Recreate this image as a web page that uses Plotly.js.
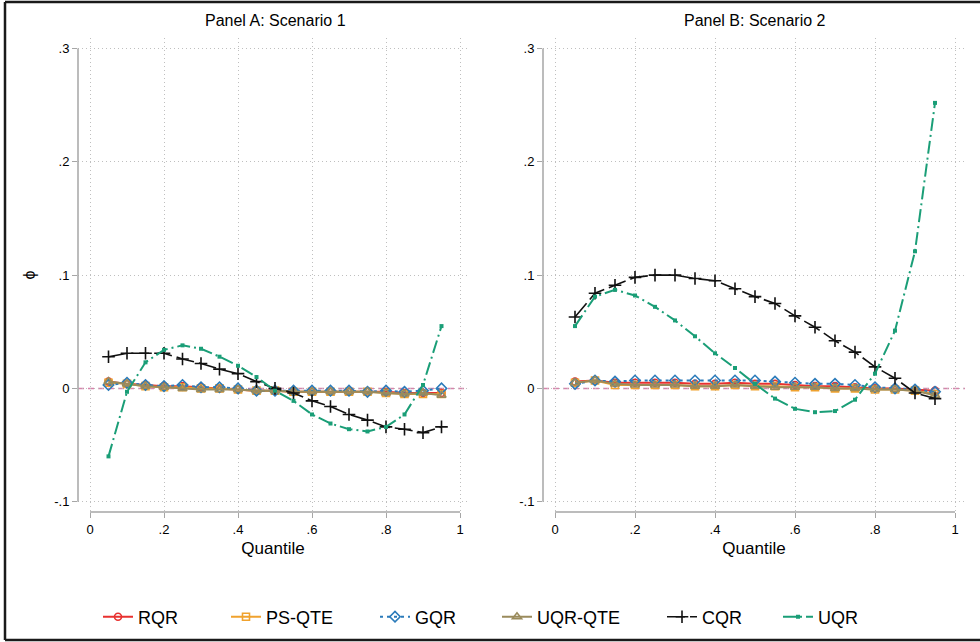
<!DOCTYPE html>
<html>
<head>
<meta charset="utf-8">
<script src="https://cdn.plot.ly/plotly-3.0.1.min.js"></script>
<style>html,body{margin:0;padding:0;background:#fff;}#chart{width:980px;height:642px;}</style>
</head>
<body>
<div id="chart"></div>
<script>
// ---- data ----
var quantiles = [0.05,0.10,0.15,0.20,0.25,0.30,0.35,0.40,0.45,0.50,0.55,0.60,0.65,0.70,0.75,0.80,0.85,0.90,0.95];
var seriesNames = ["RQR","PS-QTE","GQR","UQR-QTE","CQR","UQR"];
var panelTitles = ["Panel A: Scenario 1","Panel B: Scenario 2"];
var xTickVals = [0,0.2,0.4,0.6,0.8,1];
var xTickText = ["0",".2",".4",".6",".8","1"];
var yTickVals = [-0.1,0,0.1,0.2,0.3];
var yTickText = ["-.1","0",".1",".2",".3"];

// Panel A: Scenario 1
var A_RQR    = [0.006,0.004,0.003,0.002,0.002,0.001,0.000,-0.001,-0.002,-0.002,-0.003,-0.003,-0.003,-0.003,-0.003,-0.003,-0.004,-0.004,-0.004];
var A_PSQTE  = [0.005,0.004,0.002,0.001,0.001,0.000,0.000,-0.001,-0.002,-0.002,-0.003,-0.003,-0.003,-0.003,-0.003,-0.004,-0.005,-0.005,-0.005];
var A_GQR    = [0.003,0.005,0.003,0.002,0.003,0.001,0.001,0.000,-0.002,-0.002,-0.002,-0.002,-0.002,-0.002,-0.003,-0.002,-0.003,-0.002,0.000];
var A_UQRQTE = [0.006,0.004,0.002,0.001,0.000,-0.001,-0.001,-0.001,-0.002,-0.002,-0.003,-0.003,-0.003,-0.003,-0.003,-0.004,-0.005,-0.004,-0.006];
var A_CQR    = [0.028,0.031,0.031,0.031,0.026,0.022,0.017,0.013,0.006,0.000,-0.004,-0.011,-0.016,-0.023,-0.028,-0.034,-0.036,-0.039,-0.034];
var A_UQR    = [-0.060,-0.003,0.023,0.034,0.038,0.035,0.028,0.020,0.010,-0.002,-0.011,-0.023,-0.031,-0.036,-0.038,-0.034,-0.023,0.003,0.055];

// Panel B: Scenario 2
var B_RQR    = [0.006,0.007,0.005,0.005,0.005,0.005,0.004,0.004,0.005,0.004,0.004,0.003,0.002,0.002,0.001,0.000,0.000,-0.001,-0.002];
var B_PSQTE  = [0.005,0.007,0.003,0.003,0.003,0.003,0.002,0.002,0.003,0.002,0.002,0.001,0.001,0.000,0.000,-0.001,-0.001,-0.002,-0.005];
var B_GQR    = [0.004,0.007,0.006,0.007,0.007,0.007,0.007,0.007,0.007,0.007,0.006,0.005,0.004,0.004,0.003,0.001,0.000,-0.001,-0.003];
var B_UQRQTE = [0.005,0.007,0.004,0.003,0.003,0.003,0.002,0.002,0.003,0.002,0.001,0.001,0.001,0.000,0.000,-0.001,-0.001,-0.002,-0.006];
var B_CQR    = [0.063,0.084,0.091,0.098,0.100,0.100,0.097,0.095,0.088,0.081,0.075,0.064,0.054,0.042,0.032,0.019,0.009,-0.004,-0.009];
var B_UQR    = [0.055,0.081,0.087,0.082,0.072,0.060,0.046,0.031,0.018,0.004,-0.009,-0.018,-0.021,-0.020,-0.010,0.013,0.051,0.121,0.252];

// ---- styles ----
var W = 980, H = 642;
function px(x){ return x / W; }
function py(y){ return 1 - y / H; }

var styles = [
  {color:"#e8312f", dash:"solid", width:2, symbol:"circle-open", size:7, mlw:1.6},
  {color:"#f0a22e", dash:"solid", width:2, symbol:"square-open", size:7, mlw:1.6},
  {color:"#2b7bba", dash:"3px,4px", width:2, symbol:"diamond-open", size:8, mlw:1.6},
  {color:"#9a8b5c", dash:"solid", width:2, symbol:"triangle-up-open", size:8, mlw:1.6},
  {color:"#111111", dash:"18px,5px", width:1.6, symbol:"cross-thin-open", size:9, mlw:1.6},
  {color:"#1a9e77", dash:"13px,4px,2px,4px", width:2, symbol:"square", size:4, mlw:0}
];
var legendX = [103, 231, 380, 502, 667, 783];

var panelA = [A_RQR, A_PSQTE, A_GQR, A_UQRQTE, A_CQR, A_UQR];
var panelB = [B_RQR, B_PSQTE, B_GQR, B_UQRQTE, B_CQR, B_UQR];

var traces = [];
function addPanel(data, xa, ya, showLeg){
  for (var i = 0; i < data.length; i++){
    var s = styles[i];
    traces.push({
      type:"scatter", mode:"lines+markers",
      x: quantiles, y: data[i],
      xaxis: xa, yaxis: ya,
      name: seriesNames[i],
      legend: i === 0 ? "legend" : "legend" + (i + 1),
      showlegend: showLeg,
      line: {color: s.color, dash: s.dash, width: s.width},
      marker: {symbol: s.symbol, size: s.size, color: s.color,
               line: {color: s.color, width: s.mlw}},
      hoverinfo: "x+y+name"
    });
  }
}
addPanel(panelA, "x", "y", true);
addPanel(panelB, "x2", "y2", false);

var font = "Liberation Sans, Arial, Helvetica, sans-serif";
var gridColor = "#bfbfbf";
var axisColor = "#a6a6a6";

function xAxis(domain, range, anchor){
  return {
    domain: domain, range: range, anchor: anchor,
    tickvals: xTickVals, ticktext: xTickText,
    ticks: "outside", ticklen: 5, tickwidth: 1, tickcolor: axisColor,
    tickfont: {family: font, size: 13, color: "#000"},
    showgrid: true, gridcolor: gridColor, griddash: "1px,3px", gridwidth: 1,
    zeroline: false, showline: false, fixedrange: true,
    title: {text: "Quantile", font: {family: font, size: 17, color: "#000"}, standoff: 6}
  };
}
function yAxis(domain, anchor, title){
  var a = {
    domain: domain, range: [-0.10909, 0.30927], anchor: anchor,
    tickvals: yTickVals, ticktext: yTickText,
    ticks: "outside", ticklen: 5, tickwidth: 1, tickcolor: axisColor,
    tickfont: {family: font, size: 13, color: "#000"},
    showgrid: true, gridcolor: gridColor, griddash: "1px,3px", gridwidth: 1,
    zeroline: false, showline: false, fixedrange: true
  };
  if (title) a.title = {text: title, font: {family: font, size: 16, color: "#000"}, standoff: 14};
  return a;
}

var yDom = [py(512), py(38)];
var layout = {
  width: W, height: H,
  margin: {l:0, r:0, t:0, b:0},
  paper_bgcolor: "#ffffff", plot_bgcolor: "#ffffff",
  font: {family: font, color: "#000"},
  xaxis:  xAxis([px(78), px(468)], [-0.03243, 1.02162], "y"),
  yaxis:  yAxis(yDom, "x", "ϕ"),
  xaxis2: xAxis([px(543), px(965)], [-0.03, 1.025], "y2"),
  yaxis2: yAxis(yDom, "x2", null),
  shapes: [],
  annotations: []
};

// legends, one per series so each entry sits where the reference puts it
for (var i = 0; i < seriesNames.length; i++){
  var key = i === 0 ? "legend" : "legend" + (i + 1);
  layout[key] = {
    x: px(legendX[i] - 5), y: py(617), xanchor: "left", yanchor: "middle",
    orientation: "h", bgcolor: "rgba(0,0,0,0)", borderwidth: 0,
    font: {family: font, size: 18, color: "#000"},
    itemwidth: 30, tracegroupgap: 0
  };
}

// axis lines spanning tick ranges (Stata style), zero reference lines
[["x","y"],["x2","y2"]].forEach(function(p){
  layout.shapes.push({type:"line", xref: p[0] + " domain", yref: p[1], x0:0, x1:0, y0:-0.1, y1:0.3,
                      line:{color: axisColor, width: 1.5}, layer:"above"});
  layout.shapes.push({type:"line", xref: p[0], yref: p[1] + " domain", x0:0, x1:1, y0:0, y1:0,
                      line:{color: axisColor, width: 1.5}, layer:"above"});
  layout.shapes.push({type:"line", xref: p[0] + " domain", yref: p[1], x0:0, x1:1, y0:0, y1:0,
                      line:{color: "#d783ab", width: 1.5, dash: "6px,4px"}, layer:"below"});
});

// outer frame (left, top, bottom edges; right edge lies outside the picture)
var frame = {color:"#1a1a1a", width:2.5};
layout.shapes.push({type:"line", xref:"paper", yref:"paper", x0:px(5), x1:px(5), y0:py(640), y1:py(2), line:frame, layer:"above"});
layout.shapes.push({type:"line", xref:"paper", yref:"paper", x0:px(5), x1:1, y0:py(2), y1:py(2), line:frame, layer:"above"});
layout.shapes.push({type:"line", xref:"paper", yref:"paper", x0:px(5), x1:1, y0:py(640), y1:py(640), line:frame, layer:"above"});

// panel titles
layout.annotations.push({text: panelTitles[0], xref:"x", yref:"paper", x:0.5, y:py(20),
  showarrow:false, xanchor:"center", yanchor:"middle", font:{family:font, size:16, color:"#000"}});
layout.annotations.push({text: panelTitles[1], xref:"x2", yref:"paper", x:0.5, y:py(20),
  showarrow:false, xanchor:"center", yanchor:"middle", font:{family:font, size:16, color:"#000"}});

Plotly.newPlot("chart", traces, layout, {displayModeBar:false, staticPlot:true});
</script>
</body>
</html>
